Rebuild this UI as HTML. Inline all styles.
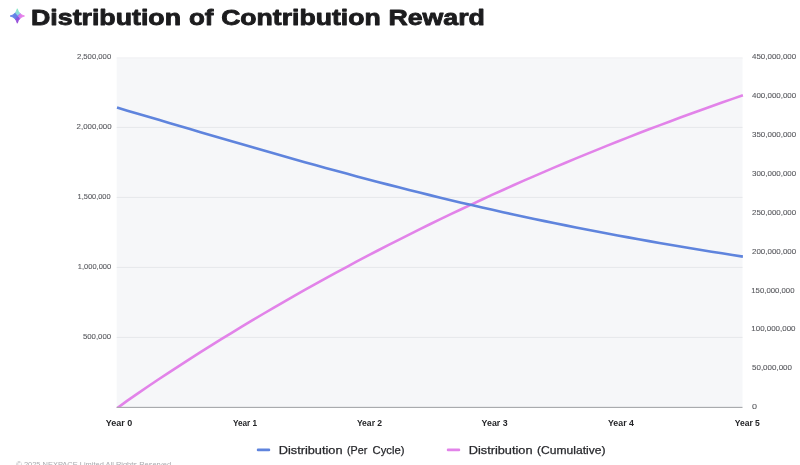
<!DOCTYPE html>
<html lang="en"><head><meta charset="utf-8"><title>Distribution of Contribution Reward</title>
<style>
html,body{margin:0;padding:0;background:#fff;}
body{width:800px;height:465px;overflow:hidden;position:relative;font-family:"Liberation Sans",sans-serif;}
</style></head><body>
<svg width="800" height="465" viewBox="0 0 800 465" font-family="'Liberation Sans', sans-serif" style="position:absolute;left:0;top:0;filter:blur(0.35px)">
<defs><clipPath id="plotclip"><rect x="0" y="0" width="800" height="407.80"/></clipPath></defs>
<rect x="116.7" y="57.1" width="625.8" height="350.3" fill="#f6f7f9"/>
<rect x="116.7" y="57.4" width="625.8" height="1.6" fill="#f3f4f6"/>
<rect x="116.7" y="126.9" width="625.8" height="1" fill="#e6e7ea"/>
<rect x="116.7" y="196.9" width="625.8" height="1" fill="#e6e7ea"/>
<rect x="116.7" y="266.9" width="625.8" height="1" fill="#e6e7ea"/>
<rect x="116.7" y="336.9" width="625.8" height="1" fill="#e6e7ea"/>
<polyline points="117.0,408.30 127.4,400.67 137.9,393.35 148.3,386.22 158.7,379.22 169.2,372.33 179.6,365.54 190.0,358.83 200.5,352.20 210.9,345.65 221.3,339.17 231.7,332.77 242.2,326.44 252.6,320.18 263.0,314.00 273.5,307.89 283.9,301.85 294.3,295.87 304.8,289.97 315.2,284.14 325.6,278.37 336.1,272.67 346.5,267.03 356.9,261.46 367.4,255.96 377.8,250.52 388.2,245.14 398.7,239.82 409.1,234.57 419.5,229.38 429.9,224.25 440.4,219.18 450.8,214.16 461.2,209.21 471.7,204.31 482.1,199.47 492.5,194.69 503.0,189.97 513.4,185.29 523.8,180.68 534.3,176.11 544.7,171.61 555.1,167.15 565.6,162.74 576.0,158.39 586.4,154.09 596.9,149.84 607.3,145.63 617.7,141.48 628.2,137.38 638.6,133.32 649.0,129.31 659.4,125.34 669.9,121.43 680.3,117.56 690.7,113.73 701.2,109.94 711.6,106.21 722.0,102.51 732.5,98.86 742.9,95.24" fill="none" stroke="#e283e9" stroke-width="2.6" stroke-linejoin="round" clip-path="url(#plotclip)"/>
<polyline points="117.0,107.60 127.4,110.66 137.9,113.72 148.3,116.79 158.7,119.87 169.2,122.94 179.6,126.02 190.0,129.09 200.5,132.16 210.9,135.22 221.3,138.28 231.7,141.32 242.2,144.35 252.6,147.37 263.0,150.37 273.5,153.35 283.9,156.31 294.3,159.26 304.8,162.18 315.2,165.08 325.6,167.95 336.1,170.80 346.5,173.62 356.9,176.42 367.4,179.18 377.8,181.92 388.2,184.62 398.7,187.30 409.1,189.94 419.5,192.54 429.9,195.12 440.4,197.66 450.8,200.16 461.2,202.64 471.7,205.07 482.1,207.47 492.5,209.84 503.0,212.17 513.4,214.46 523.8,216.72 534.3,218.94 544.7,221.12 555.1,223.27 565.6,225.39 576.0,227.47 586.4,229.52 596.9,231.53 607.3,233.51 617.7,235.46 628.2,237.37 638.6,239.26 649.0,241.11 659.4,242.94 669.9,244.73 680.3,246.50 690.7,248.25 701.2,249.96 711.6,251.66 722.0,253.33 732.5,254.98 742.9,256.61" fill="none" stroke="#5f84dd" stroke-width="2.6" stroke-linejoin="round"/>
<rect x="116.7" y="406.85" width="625.8" height="1.1" fill="#a6a7aa"/>
<defs><mask id="starmask" maskUnits="userSpaceOnUse" x="0" y="0" width="40" height="40"><path d="M17.3,8.8 Q18.8,14.5 24.5,16.0 Q18.8,17.5 17.3,23.2 Q15.8,17.5 10.100000000000001,16.0 Q15.8,14.5 17.3,8.8 Z" fill="#fff" stroke="#fff" stroke-width="0.9" stroke-linejoin="round"/></mask><linearGradient id="gTop" x1="0" y1="0" x2="0" y2="1"><stop offset="0" stop-color="#84ecba"/><stop offset="1" stop-color="#93d6ea"/></linearGradient><linearGradient id="gLeft" x1="0" y1="0" x2="1" y2="0"><stop offset="0" stop-color="#6d8ce8"/><stop offset="1" stop-color="#5273e2"/></linearGradient><linearGradient id="gRight" x1="0" y1="0" x2="1" y2="0"><stop offset="0" stop-color="#d674ee"/><stop offset="1" stop-color="#f28ce6"/></linearGradient><linearGradient id="gBot" x1="0" y1="0" x2="0" y2="1"><stop offset="0" stop-color="#8658e2"/><stop offset="1" stop-color="#a244d4"/></linearGradient></defs>
<g mask="url(#starmask)"><rect x="8.3" y="7.0" width="18" height="18" fill="url(#gLeft)"/><path d="M17.650000000000002,15.700000000000001 L10.000000000000004,7.0 L26.3,7.0 L26.3,7.900000000000001 Z" fill="url(#gTop)"/><path d="M17.650000000000002,16.1 L26.3,7.900000000000001 L26.3,25.1 Z" fill="url(#gRight)"/><path d="M17.55,16.400000000000002 L26.3,25.5 L11.0,25.0 Z" fill="url(#gBot)"/></g>
<rect x="256.75" y="448.6" width="13.5" height="2.6" rx="1.3" fill="#5f84dd"/>
<rect x="446.75" y="448.6" width="13.5" height="2.6" rx="1.3" fill="#e283e9"/>
<text class="c" x="76.90" y="59.20" textLength="34.30" lengthAdjust="spacingAndGlyphs" font-size="7.5" font-weight="normal" fill="#58595e" stroke="#58595e" stroke-width="0.1" stroke-linejoin="round">2,500,000</text>
<text class="c" x="76.60" y="129.20" textLength="35.02" lengthAdjust="spacingAndGlyphs" font-size="7.5" font-weight="normal" fill="#58595e" stroke="#58595e" stroke-width="0.1" stroke-linejoin="round">2,000,000</text>
<text class="c" x="77.56" y="199.20" textLength="33.08" lengthAdjust="spacingAndGlyphs" font-size="7.5" font-weight="normal" fill="#58595e" stroke="#58595e" stroke-width="0.1" stroke-linejoin="round">1,500,000</text>
<text class="c" x="77.80" y="269.20" textLength="33.40" lengthAdjust="spacingAndGlyphs" font-size="7.5" font-weight="normal" fill="#58595e" stroke="#58595e" stroke-width="0.1" stroke-linejoin="round">1,000,000</text>
<text class="c" x="82.90" y="339.20" textLength="28.30" lengthAdjust="spacingAndGlyphs" font-size="7.5" font-weight="normal" fill="#58595e" stroke="#58595e" stroke-width="0.1" stroke-linejoin="round">500,000</text>
<text class="c" x="752.00" y="59.20" textLength="44.20" lengthAdjust="spacingAndGlyphs" font-size="7.5" font-weight="normal" fill="#58595e" stroke="#58595e" stroke-width="0.1" stroke-linejoin="round">450,000,000</text>
<text class="c" x="752.00" y="98.09" textLength="44.20" lengthAdjust="spacingAndGlyphs" font-size="7.5" font-weight="normal" fill="#58595e" stroke="#58595e" stroke-width="0.1" stroke-linejoin="round">400,000,000</text>
<text class="c" x="752.00" y="136.98" textLength="44.20" lengthAdjust="spacingAndGlyphs" font-size="7.5" font-weight="normal" fill="#58595e" stroke="#58595e" stroke-width="0.1" stroke-linejoin="round">350,000,000</text>
<text class="c" x="752.00" y="175.87" textLength="44.20" lengthAdjust="spacingAndGlyphs" font-size="7.5" font-weight="normal" fill="#58595e" stroke="#58595e" stroke-width="0.1" stroke-linejoin="round">300,000,000</text>
<text class="c" x="752.00" y="214.76" textLength="44.20" lengthAdjust="spacingAndGlyphs" font-size="7.5" font-weight="normal" fill="#58595e" stroke="#58595e" stroke-width="0.1" stroke-linejoin="round">250,000,000</text>
<text class="c" x="752.00" y="253.64" textLength="44.20" lengthAdjust="spacingAndGlyphs" font-size="7.5" font-weight="normal" fill="#58595e" stroke="#58595e" stroke-width="0.1" stroke-linejoin="round">200,000,000</text>
<text class="c" x="751.30" y="292.53" textLength="43.20" lengthAdjust="spacingAndGlyphs" font-size="7.5" font-weight="normal" fill="#58595e" stroke="#58595e" stroke-width="0.1" stroke-linejoin="round">150,000,000</text>
<text class="c" x="751.30" y="331.42" textLength="44.21" lengthAdjust="spacingAndGlyphs" font-size="7.5" font-weight="normal" fill="#58595e" stroke="#58595e" stroke-width="0.1" stroke-linejoin="round">100,000,000</text>
<text class="c" x="752.00" y="370.31" textLength="40.00" lengthAdjust="spacingAndGlyphs" font-size="7.5" font-weight="normal" fill="#58595e" stroke="#58595e" stroke-width="0.1" stroke-linejoin="round">50,000,000</text>
<text class="c" x="752.00" y="409.20" textLength="5.00" lengthAdjust="spacingAndGlyphs" font-size="7.5" font-weight="normal" fill="#58595e" stroke="#58595e" stroke-width="0.1" stroke-linejoin="round">0</text>
<text class="c" x="105.80" y="425.50" textLength="26.53" lengthAdjust="spacingAndGlyphs" font-size="8.2" font-weight="bold" fill="#242528">Year 0</text>
<text class="c" x="232.90" y="425.50" textLength="24.19" lengthAdjust="spacingAndGlyphs" font-size="8.2" font-weight="bold" fill="#242528">Year 1</text>
<text class="c" x="356.90" y="425.50" textLength="25.20" lengthAdjust="spacingAndGlyphs" font-size="8.2" font-weight="bold" fill="#242528">Year 2</text>
<text class="c" x="481.64" y="425.50" textLength="25.96" lengthAdjust="spacingAndGlyphs" font-size="8.2" font-weight="bold" fill="#242528">Year 3</text>
<text class="c" x="608.00" y="425.50" textLength="25.90" lengthAdjust="spacingAndGlyphs" font-size="8.2" font-weight="bold" fill="#242528">Year 4</text>
<text class="c" x="734.70" y="425.50" textLength="25.20" lengthAdjust="spacingAndGlyphs" font-size="8.2" font-weight="bold" fill="#242528">Year 5</text>
<text y="454.20" font-size="11.0" font-weight="normal" fill="#26272b" stroke="#26272b" stroke-width="0.25" stroke-linejoin="round"><tspan class="c" x="278.73" textLength="63.79" lengthAdjust="spacingAndGlyphs">Distribution</tspan> <tspan class="c" x="346.98" textLength="20.28" lengthAdjust="spacingAndGlyphs">(Per</tspan> <tspan class="c" x="372.60" textLength="31.87" lengthAdjust="spacingAndGlyphs">Cycle)</tspan></text>
<text y="454.20" font-size="11.0" font-weight="normal" fill="#26272b" stroke="#26272b" stroke-width="0.25" stroke-linejoin="round"><tspan class="c" x="468.73" textLength="63.78" lengthAdjust="spacingAndGlyphs">Distribution</tspan> <tspan class="c" x="536.98" textLength="68.54" lengthAdjust="spacingAndGlyphs">(Cumulative)</tspan></text>
<text class="c" x="16.30" y="467.40" textLength="156.91" lengthAdjust="spacingAndGlyphs" font-size="8.0" font-weight="normal" fill="#a9aaae">© 2025 NEXPACE Limited All Rights Reserved.</text>
<text y="25.40" font-size="22.0" font-weight="bold" fill="#1c1c1e" stroke="#1c1c1e" stroke-width="0.85" stroke-linejoin="round"><tspan class="c" x="31.08" textLength="149.90" lengthAdjust="spacingAndGlyphs">Distribution</tspan> <tspan class="c" x="189.00" textLength="24.45" lengthAdjust="spacingAndGlyphs">of</tspan> <tspan class="c" x="221.15" textLength="159.55" lengthAdjust="spacingAndGlyphs">Contribution</tspan> <tspan class="c" x="388.45" textLength="96.50" lengthAdjust="spacingAndGlyphs">Reward</tspan></text>
</svg>
</body></html>
